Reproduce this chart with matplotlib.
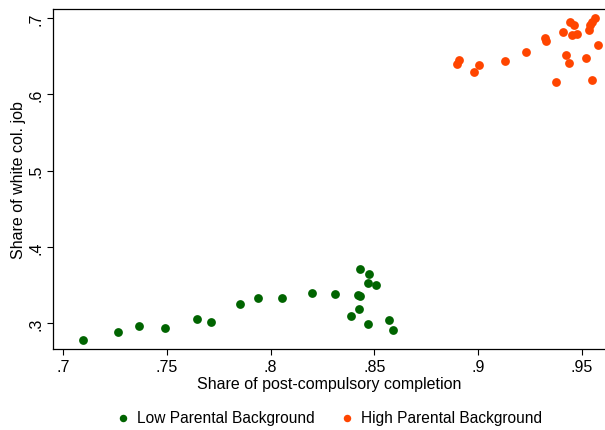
import numpy as np
import matplotlib.pyplot as plt

plt.rcParams['font.family'] = ['Liberation Sans', 'DejaVu Sans']

# share of post-compulsory completion / share of white collar job
low_x = [.7094, .7265, .7364, .7489, .7645, .7711, .7851, .7939, .8053, .8201, .8310,
         .8422, .8432, .8432, .8475, .8471, .8508, .8427, .8386, .8469, .8569, .8591]
low_y = [.2781, .2881, .2964, .2938, .3056, .3013, .3254, .3325, .3333, .3390, .3377,
         .3372, .3351, .3714, .3644, .3526, .3499, .3179, .3095, .2987, .3035, .2904]

high_x = [.8900, .8906, .8980, .9003, .9130, .9229, .9321, .9327, .9408, .9443, .9461, .9453,
          .9478, .9533, .9541, .9551, .9562, .9580, .9422, .9440, .9519, .9377, .9549]
high_y = [.6403, .6447, .6298, .6390, .6434, .6557, .6736, .6706, .6815, .6955, .6907, .6784,
          .6789, .6846, .6907, .6951, .6999, .6653, .6522, .6417, .6478, .6163, .6184]

xticks = [.7, .75, .8, .85, .9, .95]
xticklabels = ['.7', '.75', '.8', '.85', '.9', '.95']
yticks = [.3, .4, .5, .6, .7]
yticklabels = ['.3', '.4', '.5', '.6', '.7']

fig = plt.figure(figsize=(6.05, 4.31), dpi=100)
ax = fig.add_axes([0.0881, 0.1868, 0.9119, 0.7907])

ax.scatter(low_x, low_y, s=40, color='#006400', linewidths=0, label='Low Parental Background')
ax.scatter(high_x, high_y, s=40, color='#FF4500', linewidths=0, label='High Parental Background')

ax.set_xlim(0.6952, 0.9612)
ax.set_ylim(0.2652, 0.7126)
ax.set_xticks(xticks)
ax.set_xticklabels(xticklabels)
ax.set_yticks(yticks)
ax.set_yticklabels(yticklabels, rotation=90, va='center')
ax.tick_params(direction='out', length=4, width=0.8, labelsize=11.5, colors='black', pad=3)

ax.spines['right'].set_visible(False)
for s in ['left', 'bottom', 'top']:
    ax.spines[s].set_linewidth(0.9)
    ax.spines[s].set_color('black')

ax.set_xlabel('Share of post-compulsory completion', fontsize=11.5, labelpad=1)
ax.set_ylabel('Share of white col. job', fontsize=11.5, labelpad=2)

fig.legend(loc='center', bbox_to_anchor=(0.543, 0.028), ncol=2, frameon=False,
           fontsize=11.2, handlelength=1.0, handletextpad=0.4, columnspacing=1.6,
           markerscale=0.85, borderpad=0)

fig.savefig('out.png', dpi=100)
